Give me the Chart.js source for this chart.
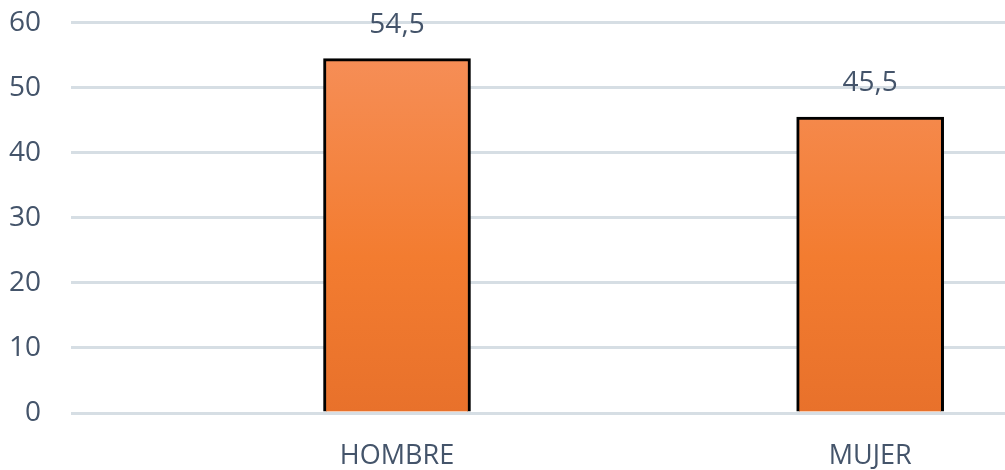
<!DOCTYPE html>
<html>
<head>
<meta charset="utf-8">
<script src="https://cdn.jsdelivr.net/npm/chart.js@4"></script>
<style>
  html, body { margin: 0; padding: 0; background: #fff; overflow: hidden; }
  #wrap { width: 1005px; height: 494px; margin-top: -24px; }
</style>
</head>
<body>
<div id="wrap"><canvas id="sexo"></canvas></div>
<script>
// Porcentaje por sexo
const categorias = ['HOMBRE', 'MUJER'];
const porcentajes = [54.5, 45.5];
const ticksY = [0, 10, 20, 30, 40, 50, 60];

const textColor = '#44546a';
const fontFamily = '"Open Sans", "DejaVu Sans", sans-serif';

// Bar fill: light orange at the top fading into a deeper orange
const barGradient = (ctx) => {
    const chart = ctx.chart;
    const area = chart.chartArea;
    if (!area) return '#f27c32';
    const g = chart.ctx.createLinearGradient(0, area.top, 0, area.bottom);
    g.addColorStop(0, '#f6915d');
    g.addColorStop(0.6, '#f37c30');
    g.addColorStop(1, '#e8712b');
    return g;
};

// Value labels above each bar
const valueLabels = {
    id: 'valueLabels',
    afterDatasetsDraw(chart) {
        const ctx = chart.ctx;
        ctx.save();
        ctx.font = '28px ' + fontFamily;
        ctx.fillStyle = textColor;
        ctx.textAlign = 'center';
        ctx.textBaseline = 'middle';
        chart.getDatasetMeta(0).data.forEach((bar, i) => {
            const txt = String(porcentajes[i]).replace('.', ',');
            ctx.fillText(txt, bar.x, bar.y - 34);
        });
        ctx.restore();
    }
};

new Chart(document.getElementById('sexo'), {
    type: 'bar',
    data: {
        datasets: [{
            data: porcentajes.map((v, i) => ({ x: i, y: v })),
            backgroundColor: barGradient,
            borderColor: '#000',
            borderWidth: 3,
            barThickness: 147
        }]
    },
    options: {
        responsive: true,
        maintainAspectRatio: false,
        animation: false,
        layout: { padding: 0 },
        plugins: {
            legend: { display: false },
            tooltip: { enabled: false }
        },
        scales: {
            x: {
                type: 'linear',
                offset: false,
                min: -0.689,
                max: 1.285,
                grid: { display: false },
                border: { display: false },
                afterBuildTicks: (scale) => {
                    scale.ticks = categorias.map((c, i) => ({ value: i }));
                },
                afterFit: (scale) => { scale.height = 57; },
                ticks: {
                    autoSkip: false,
                    maxRotation: 0,
                    padding: 19,
                    color: textColor,
                    font: { family: fontFamily, size: 27 },
                    callback: (v) => categorias[v]
                }
            },
            y: {
                min: 0,
                max: 60,
                afterBuildTicks: (scale) => {
                    scale.ticks = ticksY.map(v => ({ value: v }));
                },
                afterFit: (scale) => { scale.width = 71; },
                grid: { color: '#d6dee4', lineWidth: 3, drawTicks: false },
                border: { display: false },
                ticks: {
                    padding: 30,
                    color: textColor,
                    font: { family: fontFamily, size: 28 }
                }
            }
        }
    },
    plugins: [valueLabels]
});
</script>
</body>
</html>
